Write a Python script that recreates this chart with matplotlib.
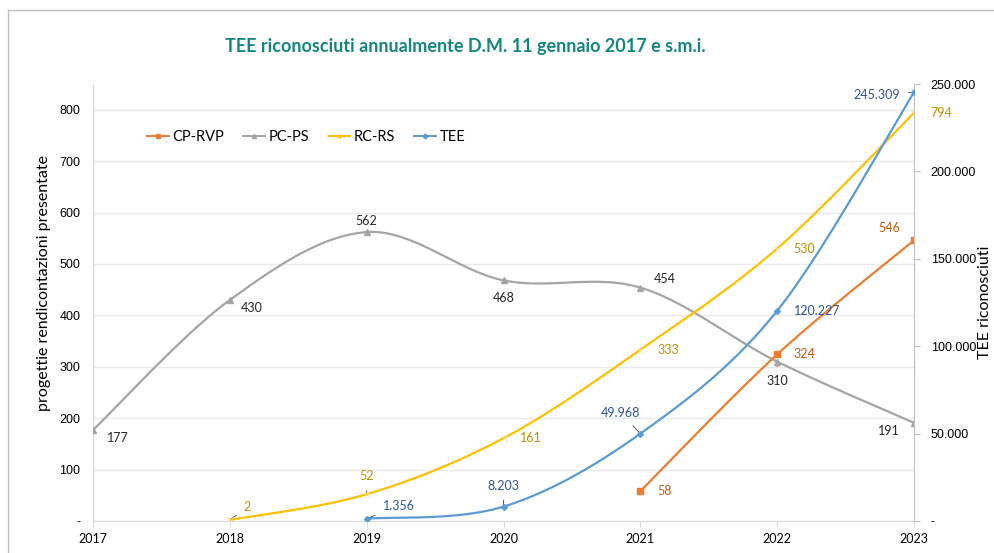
import numpy as np
from matplotlib import pyplot as plt
from matplotlib.lines import Line2D
from matplotlib.ticker import FixedLocator, FuncFormatter

years = [2017, 2018, 2019, 2020, 2021, 2022, 2023]
cp_rvp = [None, None, None, None, 58, 324, 546]
pc_ps = [177, 430, 562, 468, 454, 310, 191]
rc_rs = [None, 2, 52, 161, 333, 530, 794]
tee = [None, None, 1356, 8203, 49968, 120227, 245309]

left_ticks = [0, 100, 200, 300, 400, 500, 600, 700, 800]
right_ticks = [0, 50000, 100000, 150000, 200000, 250000]

c_cp = '#ED7D31'
c_pc = '#A5A5A5'
c_rc = '#FFC000'
c_tee = '#5B9BD5'
grid_c = '#EAEAEA'
axis_c = '#BFBFBF'


def smooth(xs, ys, n=40):
    # excel-like smoothed line (catmull-rom bezier)
    pts = [(x, y) for x, y in zip(xs, ys) if y is not None]
    px = np.array([p[0] for p in pts], float)
    py = np.array([p[1] for p in pts], float)
    if len(px) < 3:
        return px, py
    ox, oy = [], []
    k = len(px)
    for i in range(k - 1):
        i0 = max(i - 1, 0)
        i3 = min(i + 2, k - 1)
        p0 = np.array([px[i], py[i]])
        p3 = np.array([px[i + 1], py[i + 1]])
        c1 = p0 + (p3 - np.array([px[i0], py[i0]])) / 6
        c2 = p3 - (np.array([px[i3], py[i3]]) - p0) / 6
        t = np.linspace(0, 1, n)[:, None]
        b = (1 - t) ** 3 * p0 + 3 * (1 - t) ** 2 * t * c1 + 3 * (1 - t) * t ** 2 * c2 + t ** 3 * p3
        ox.extend(b[:, 0])
        oy.extend(b[:, 1])
    return np.array(ox), np.array(oy)


def pts(xs, ys):
    return [x for x, y in zip(xs, ys) if y is not None], [y for y in ys if y is not None]


plt.rcParams['font.family'] = ['Lato', 'DejaVu Sans']

fig = plt.figure(figsize=(9.94, 5.53), dpi=100)
ax = fig.add_axes([0.0936, 0.0579, 0.8259, 0.7902])
ax2 = ax.twinx()

# frame border
fig.add_artist(Line2D([8 / 994, 8 / 994], [0, 1 - 10 / 553], color='#BFBFBF', lw=1, transform=fig.transFigure))
fig.add_artist(Line2D([8 / 994, 1], [1 - 10 / 553, 1 - 10 / 553], color='#BFBFBF', lw=1, transform=fig.transFigure))

ax.set_xlim(2017, 2023)
ax.set_ylim(0, 850)
ax2.set_ylim(0, 250000)

for v in left_ticks:
    ax.axhline(v, color=grid_c, lw=1, zorder=0)

# series
sx, sy = smooth(years, pc_ps)
ax.plot(sx, sy, color=c_pc, lw=1.6, zorder=3)
x, y = pts(years, pc_ps)
ax.plot(x, y, ls='none', marker='^', ms=4, color=c_pc, zorder=4)

sx, sy = smooth(years, rc_rs)
ax.plot(sx, sy, color=c_rc, lw=1.6, zorder=3)
x, y = pts(years, rc_rs)
ax.plot(x, y, ls='none', marker='x', ms=4, mew=0.6, color='#FFE08A', zorder=4)

sx, sy = smooth(years, cp_rvp)
ax.plot(sx, sy, color=c_cp, lw=1.6, zorder=3)
x, y = pts(years, cp_rvp)
ax.plot(x, y, ls='none', marker='s', ms=4.5, color=c_cp, zorder=4)

sx, sy = smooth(years, tee)
ax2.plot(sx, sy, color=c_tee, lw=1.6, zorder=3)
x, y = pts(years, tee)
ax2.plot(x, y, ls='none', marker='D', ms=3, color=c_tee, zorder=4)


def num(v):
    return f'{v:,}'.replace(',', '.')


def label(a, txt, xy, dx, dy, ha, color, lead=False):
    kw = {}
    if lead:
        kw['arrowprops'] = dict(arrowstyle='-', color='#404040', lw=0.6, shrinkA=4, shrinkB=1)
    a.annotate(txt, xy, xytext=(dx, dy), textcoords='offset points', ha=ha, va='center',
               fontsize=9, color=color, **kw)


# data labels (offsets in points)
lab_pc = {2017: (10, -6, 'left', False), 2018: (8, -6, 'left', False), 2019: (0, 8, 'center', False),
          2020: (0, -13, 'center', False), 2021: (10, 6, 'left', False), 2022: (0, -14, 'center', True),
          2023: (-10, -6, 'right', False)}
for yr, v in zip(years, pc_ps):
    dx, dy, ha, ld = lab_pc[yr]
    label(ax, str(v), (yr, v), dx, dy, ha, '#262626', ld)

lab_rc = {2018: (10, 9, 'left', True), 2019: (0, 13, 'center', True), 2020: (12, 0, 'left', False),
          2021: (12, 0, 'left', False), 2022: (12, 0, 'left', False), 2023: (12, 0, 'left', False)}
for yr, v in zip(years, rc_rs):
    if v is None:
        continue
    dx, dy, ha, ld = lab_rc[yr]
    label(ax, str(v), (yr, v), dx, dy, ha, '#BF9000', ld)

lab_cp = {2021: (12, 0, 'left', False), 2022: (12, 0, 'left', False), 2023: (-10, 9, 'right', False)}
for yr, v in zip(years, cp_rvp):
    if v is None:
        continue
    dx, dy, ha, ld = lab_cp[yr]
    label(ax, str(v), (yr, v), dx, dy, ha, '#C55A11', ld)

lab_tee = {2019: (12, 9, 'left', True), 2020: (0, 15, 'center', True), 2021: (-14, 15, 'center', True),
           2022: (12, 0, 'left', False), 2023: (-10, -2, 'right', True)}
for yr, v in zip(years, tee):
    if v is None:
        continue
    dx, dy, ha, ld = lab_tee[yr]
    label(ax2, num(v), (yr, v), dx, dy, ha, '#2F5597', ld)

# axes styling
for s in ['top', 'right', 'left']:
    ax.spines[s].set_visible(False)
for s in ['top', 'left', 'bottom']:
    ax2.spines[s].set_visible(False)
ax2.spines['right'].set_color(axis_c)
ax.spines['bottom'].set_color('#D9D9D9')
ax.axvline(2017, color='#D9D9D9', lw=1, zorder=1)

ax.set_xticks(years)
ax.set_xticklabels([str(y) for y in years], fontsize=9)
ax.tick_params(axis='x', length=4, color='#D9D9D9', pad=5)
ax.yaxis.set_major_locator(FixedLocator(left_ticks))
ax.yaxis.set_major_formatter(FuncFormatter(lambda v, p: '-' if v == 0 else f'{int(v)}'))
ax.tick_params(axis='y', length=0, pad=9, labelsize=9)
for t in ax.get_yticklabels():
    t.set_family(['Liberation Sans', 'DejaVu Sans'])

ax2.yaxis.set_major_locator(FixedLocator(right_ticks))
ax2.yaxis.set_major_formatter(FuncFormatter(lambda v, p: '-' if v == 0 else num(int(v))))
ax2.tick_params(axis='y', length=4, color=axis_c, pad=8, labelsize=9)
for t in ax2.get_yticklabels():
    t.set_family(['Liberation Sans', 'DejaVu Sans'])

fig.text(44 / 994, 1 - 283 / 553, 'progettie rendicontazioni presentate', rotation=90,
         ha='center', va='center', fontsize=11.5)
fig.text(985 / 994, 1 - 302 / 553, 'TEE riconosciuti', rotation=90,
         ha='center', va='center', fontsize=11.5)

fig.text(465 / 994, 1 - 47 / 553, 'TEE riconosciuti annualmente D.M. 11 gennaio 2017 e s.m.i.',
         ha='center', va='center', fontsize=13, fontweight='bold', color='#13877F')

handles = [Line2D([], [], color=c_cp, marker='s', ms=3, lw=1.4),
           Line2D([], [], color=c_pc, marker='^', ms=3, lw=1.4),
           Line2D([], [], color=c_rc, marker='x', ms=3, lw=1.4),
           Line2D([], [], color=c_tee, marker='D', ms=2.5, lw=1.4)]
ax.legend(handles, ['CP-RVP', 'PC-PS', 'RC-RS', 'TEE'], loc='upper left', bbox_to_anchor=(0.05, 0.925),
          ncol=4, frameon=False, fontsize=10.5, handlelength=1.5, handletextpad=0.25, columnspacing=1.3)

fig.savefig('out.png', dpi=100)
